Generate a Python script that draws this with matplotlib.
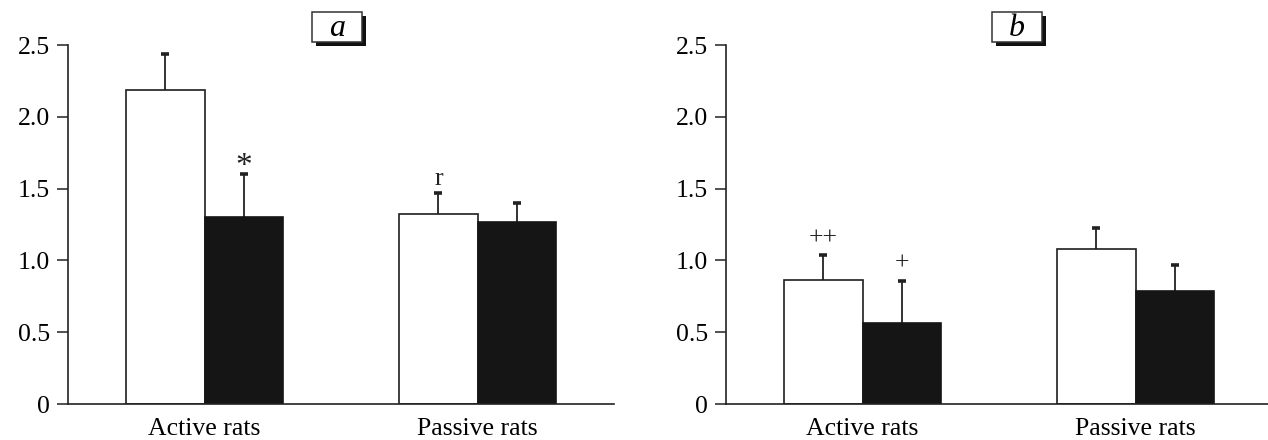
import matplotlib
matplotlib.use("Agg")
import matplotlib.pyplot as plt
from matplotlib.patches import Rectangle
import numpy as np

plt.rcParams['font.family'] = ['Liberation Serif', 'DejaVu Serif']

groups = ["Active rats", "Passive rats"]
yticks = [0, 0.5, 1.0, 1.5, 2.0, 2.5]
yticklabels = ["0", "0.5", "1.0", "1.5", "2.0", "2.5"]

# panel a
a_white = [2.19, 1.32]
a_white_err = [0.25, 0.15]
a_black = [1.30, 1.265]
a_black_err = [0.30, 0.135]
a_marks_white = ["", "r"]
a_marks_black = ["*", ""]

# panel b
b_white = [0.865, 1.08]
b_white_err = [0.17, 0.145]
b_black = [0.565, 0.79]
b_black_err = [0.295, 0.175]
b_marks_white = ["++", ""]
b_marks_black = ["+", ""]

W, H = 1268, 440
fig = plt.figure(figsize=(W / 100, H / 100), dpi=100)

FS = 18.5
BW = 0.286
EDGE = '#1e1e1e'
FILL_DARK = '#151515'

MARK_STYLE = {"*": (24, 0.055), "r": (FS, 0.10), "++": (FS, 0.115), "+": (FS, 0.12)}


def put_mark(ax, xpos, top, m):
    size, off = MARK_STYLE[m]
    ax.text(xpos, top + off, m, ha='center', va='center', fontsize=size, color='#222')


def panel(left_px, white, werr, black, berr, mw, mb):
    ax = fig.add_axes([left_px / W, (H - 404) / H, 546 / W, 359 / H])
    x = np.arange(len(groups))
    ax.bar(x - BW / 2, white, BW, color='white', edgecolor=EDGE, linewidth=1.2, zorder=2)
    ax.bar(x + BW / 2, black, BW, color=FILL_DARK, edgecolor=FILL_DARK, linewidth=1.2, zorder=2)
    for xs, vals, errs in [(x - BW / 2, white, werr), (x + BW / 2, black, berr)]:
        eb = ax.errorbar(xs, vals, yerr=[np.zeros(len(errs)), errs], fmt='none',
                         ecolor='#222222', elinewidth=1.3, capsize=3.2, capthick=2.6, zorder=1)
        caps = eb.lines[1]
        if len(caps) == 2:
            caps[0].set_visible(False)
    for i in range(len(groups)):
        if mw[i]:
            put_mark(ax, x[i] - BW / 2, white[i] + werr[i], mw[i])
        if mb[i]:
            put_mark(ax, x[i] + BW / 2, black[i] + berr[i], mb[i])
    ax.set_xlim(-0.5, 1.5)
    ax.set_ylim(0, 2.5)
    ax.set_xticks(x)
    ax.set_xticklabels(groups, fontsize=FS)
    ax.set_yticks(yticks)
    ax.set_yticklabels(yticklabels, fontsize=FS)
    ax.tick_params(axis='x', length=0, pad=10)
    ax.tick_params(axis='y', length=8, width=1.1, pad=5, color='#222')
    for s in ['top', 'right']:
        ax.spines[s].set_visible(False)
    for s in ['left', 'bottom']:
        ax.spines[s].set_linewidth(1.2)
        ax.spines[s].set_color('#222')
    ax.patch.set_alpha(0)
    return ax


panel(68, a_white, a_white_err, a_black, a_black_err, a_marks_white, a_marks_black)
panel(726, b_white, b_white_err, b_black, b_black_err, b_marks_white, b_marks_black)


def label_box(x0, letter):
    bw, bh = 50, 30
    y0 = 12
    shadow = Rectangle(((x0 + 4) / W, (H - y0 - bh - 4) / H), bw / W, bh / H,
                       transform=fig.transFigure, facecolor='#111', edgecolor='none', zorder=5)
    box = Rectangle((x0 / W, (H - y0 - bh) / H), bw / W, bh / H,
                    transform=fig.transFigure, facecolor='white', edgecolor='#333',
                    linewidth=1.1, zorder=6)
    fig.add_artist(shadow)
    fig.add_artist(box)
    fig.text((x0 + bw / 2) / W, (H - y0 - bh / 2 - 1) / H, letter, ha='center', va='center',
             fontsize=23, style='italic', zorder=7)


label_box(312, "a")
label_box(992, "b")

fig.savefig("out.png", dpi=100)
